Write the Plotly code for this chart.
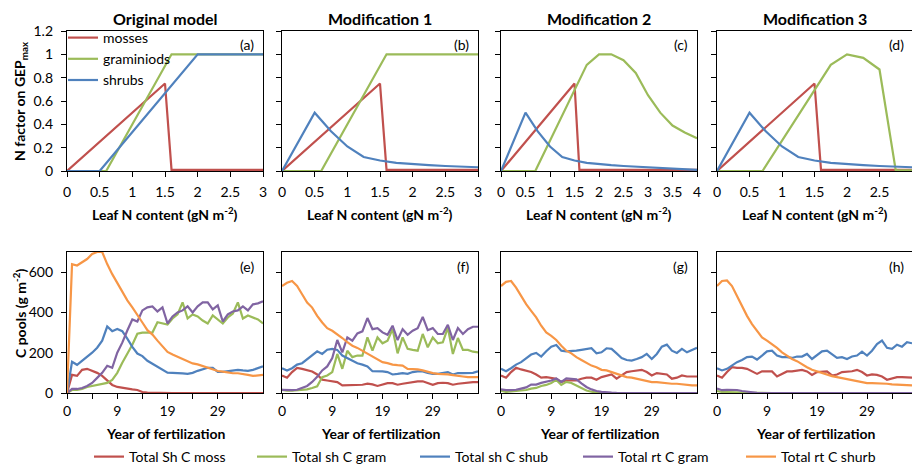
import plotly.graph_objects as go

W, H = 912, 466

# ---------------- top row data (N factor on GEPmax vs leaf N) ----------------
moss_x_a = [0, 1.5, 1.6, 3]
moss_y_a = [0, 0.75, 0.01, 0.01]
gram_x_a = [0, 0.6, 1.6, 3]
gram_y_a = [0, 0, 1, 1]
shrub_x_a = [0, 0.5, 2, 3]
shrub_y_a = [0, 0, 1, 1]

moss_x_mod = [0, 1.5, 1.6, 4]
moss_y_mod = [0, 0.75, 0.01, 0.01]

shrub_x_mod = [0, 0.5, 0.75, 1, 1.25, 1.5, 1.75, 2, 2.25, 2.5, 2.75, 3, 3.25, 3.5, 3.75, 4]
shrub_y_mod = [0, 0.5, 0.34, 0.21, 0.12, 0.09, 0.07, 0.057, 0.05, 0.043, 0.037, 0.03, 0.022, 0.016, 0.012, 0.01]

gram_x_b = [0, 0.6, 1.6, 3]
gram_y_b = [0, 0, 1, 1]
gram_x_c = [0, 0.7, 1.75, 2, 2.25, 2.5, 2.75, 3, 3.25, 3.5, 3.75, 4]
gram_y_c = [0, 0, 0.91, 1.0, 1.0, 0.95, 0.84, 0.65, 0.5, 0.39, 0.33, 0.28]
gram_x_d = [0, 0.7, 1.75, 2, 2.25, 2.5, 2.75, 3]
gram_y_d = [0, 0, 0.91, 1.0, 0.97, 0.87, 0.005, 0.005]

top_titles = ["Original model", "Modification 1", "Modification 2", "Modification 3"]
top_xmax = [3, 3, 4, 3]
top_labels = ["(a)", "(b)", "(c)", "(d)"]
bot_labels = ["(e)", "(f)", "(g)", "(h)"]

# ---------------- bottom row data (C pools vs year index) ----------------
year_ticks = [0, 10, 20, 30]
year_ticktext = ["0", "9", "19", "29"]
years = list(range(40))

moss_e = [0, 90, 85, 115, 120, 110, 100, 85, 60, 40, 30, 25, 20, 18, 15, 5, 2, 1, 0, 0,
          0, 0, 0, 0, 0, 0, 0, 0, 0, 0, 0, 0, 0, 0, 0, 0, 0, 0, 0, 0]
gram_e = [0, 15, 15, 20, 30, 35, 40, 45, 50, 65, 100, 150, 196, 240, 294, 300, 300, 300, 351, 345,
          340, 370, 390, 450, 370, 390, 380, 360, 345, 385, 365, 345, 375, 395, 450, 370, 385, 375, 365, 345]
shub_e = [0, 155, 140, 160, 180, 200, 225, 260, 330, 307, 318, 307, 270, 229, 196, 183, 160, 145, 130, 118,
          101, 100, 100, 97, 95, 100, 110, 118, 125, 125, 105, 105, 108, 112, 115, 112, 110, 115, 122, 132]
rtgram_e = [0, 20, 20, 25, 35, 50, 75, 100, 135, 125, 200, 250, 310, 365, 355, 410, 425, 430, 405, 425,
            345, 380, 400, 410, 430, 400, 430, 450, 450, 415, 435, 355, 390, 405, 410, 430, 410, 440, 445, 455]
rtshrub_e = [0, 640, 633, 650, 665, 690, 700, 700, 640, 590, 545, 500, 460, 425, 390, 350, 312, 290, 260, 230,
             204, 191, 180, 171, 160, 147, 142, 134, 126, 118, 109, 106, 101, 98, 98, 95, 90, 85, 88, 90]

moss_f = [87, 76, 104, 125, 120, 112, 107, 92, 66, 62, 59, 54, 38, 38, 38, 38, 41, 46, 43, 35,
          43, 49, 49, 41, 46, 51, 54, 58, 58, 49, 41, 49, 51, 49, 41, 46, 49, 54, 54, 54]
gram_f = [16, 12, 12, 14, 16, 18, 25, 33, 79, 87, 104, 194, 120, 210, 178, 186, 186, 276, 210, 276,
          247, 260, 317, 197, 276, 219, 214, 210, 293, 227, 276, 247, 252, 325, 194, 273, 214, 214, 205, 202]
shub_f = [123, 112, 123, 141, 148, 169, 186, 207, 194, 215, 219, 214, 186, 174, 158, 148, 141, 132, 108, 108,
          107, 104, 92, 95, 99, 95, 104, 107, 107, 100, 95, 95, 99, 104, 92, 99, 99, 99, 100, 108]
rtgram_f = [16, 14, 14, 16, 25, 35, 55, 80, 112, 132, 174, 263, 202, 276, 260, 296, 306, 372, 317, 322,
            301, 289, 334, 263, 317, 289, 309, 322, 378, 312, 322, 293, 293, 339, 263, 322, 293, 317, 329, 329]
rtshrub_f = [531, 547, 556, 531, 490, 449, 424, 383, 350, 322, 309, 293, 273, 252, 235, 224, 210, 194, 178, 164,
             153, 148, 141, 138, 136, 120, 120, 117, 112, 104, 99, 95, 95, 92, 89, 87, 82, 79, 79, 79]

moss_g = [87, 76, 104, 125, 117, 112, 104, 92, 76, 79, 76, 71, 54, 62, 62, 62, 71, 76, 76, 66,
          79, 87, 92, 71, 87, 104, 108, 112, 115, 104, 87, 99, 95, 92, 71, 76, 87, 82, 82, 82]
gram_g = [12, 5, 8, 10, 12, 15, 22, 25, 35, 40, 50, 65, 40, 55, 50, 38, 22, 12, 6, 2,
          0, 0, 0, 0, 0, 0, 0, 0, 0, 0, 0, 0, 0, 0, 0, 0, 0, 0, 0, 0]
shub_g = [120, 108, 123, 141, 153, 174, 191, 199, 181, 207, 230, 238, 210, 207, 207, 210, 214, 219, 222, 197,
          202, 222, 219, 197, 174, 164, 161, 169, 178, 194, 169, 194, 230, 240, 210, 199, 219, 202, 214, 224]
rtgram_g = [18, 14, 14, 16, 22, 28, 42, 42, 50, 55, 62, 72, 55, 72, 70, 68, 48, 30, 18, 10,
            6, 3, 2, 1, 1, 0, 0, 0, 0, 0, 0, 0, 0, 0, 0, 0, 0, 0, 0, 0]
rtshrub_g = [531, 552, 556, 523, 482, 441, 408, 375, 334, 301, 284, 263, 235, 210, 197, 178, 164, 148, 136, 128,
             115, 112, 104, 95, 87, 79, 76, 71, 66, 62, 54, 54, 51, 49, 46, 46, 43, 41, 38, 38]

moss_h = [87, 76, 104, 128, 125, 125, 120, 108, 95, 108, 107, 107, 82, 95, 107, 107, 112, 115, 107, 90,
          104, 107, 107, 87, 92, 104, 107, 108, 115, 104, 87, 92, 90, 82, 66, 74, 79, 79, 76, 76]
gram_h = [10, 5, 5, 5, 4, 3, 2, 1, 0, 0, 0, 0, 0, 0, 0, 0, 0, 0, 0, 0,
          0, 0, 0, 0, 0, 0, 0, 0, 0, 0, 0, 0, 0, 0, 0, 0, 0, 0, 0, 0]
shub_h = [123, 112, 120, 136, 153, 164, 178, 181, 166, 186, 207, 210, 186, 178, 178, 174, 181, 181, 194, 169,
          186, 207, 210, 194, 174, 178, 169, 181, 186, 205, 186, 210, 243, 260, 224, 219, 240, 230, 252, 247]
rtgram_h = [22, 14, 16, 16, 15, 10, 6, 3, 1, 0, 0, 0, 0, 0, 0, 0, 0, 0, 0, 0,
            0, 0, 0, 0, 0, 0, 0, 0, 0, 0, 0, 0, 0, 0, 0, 0, 0, 0, 0, 0]
rtshrub_h = [531, 556, 559, 531, 482, 432, 383, 342, 309, 276, 260, 243, 224, 202, 186, 169, 158, 141, 128, 115,
             107, 99, 92, 84, 79, 74, 67, 62, 58, 54, 49, 49, 49, 46, 46, 43, 41, 41, 38, 38]

bot_names = ["Total Sh C moss", "Total sh C gram", "Total sh C shub", "Total rt C gram", "Total rt C shurb"]
bot_series = [
    [moss_e, gram_e, shub_e, rtgram_e, rtshrub_e],
    [moss_f, gram_f, shub_f, rtgram_f, rtshrub_f],
    [moss_g, gram_g, shub_g, rtgram_g, rtshrub_g],
    [moss_h, gram_h, shub_h, rtgram_h, rtshrub_h],
]

RED, GREEN, BLUE, PURPLE, ORANGE = "#C0504D", "#9BBB59", "#4F81BD", "#8064A2", "#F79646"
bot_colors = [RED, GREEN, BLUE, PURPLE, ORANGE]

FONT = "Lato"
LW = 2.2

# ---------------- layout geometry (pixels) ----------------
panel_left = [67, 282, 501, 717]
panel_w = 196
top_row = (31, 171)
bot_row = (252, 393)


def xdom(left):
    return [left / W, min(1.0, (left + panel_w) / W)]


def ydom(top, bottom):
    return [(H - bottom) / H, (H - top) / H]


fig = go.Figure()

top_sets = [
    [(moss_x_a, moss_y_a), (gram_x_a, gram_y_a), (shrub_x_a, shrub_y_a)],
    [(moss_x_mod, moss_y_mod), (gram_x_b, gram_y_b), (shrub_x_mod, shrub_y_mod)],
    [(moss_x_mod, moss_y_mod), (gram_x_c, gram_y_c), (shrub_x_mod, shrub_y_mod)],
    [(moss_x_mod, moss_y_mod), (gram_x_d, gram_y_d), (shrub_x_mod, shrub_y_mod)],
]
top_names = ["mosses", "graminiods", "shrubs"]
top_colors = [RED, GREEN, BLUE]

for i, sets in enumerate(top_sets):
    ax = i + 1
    for j, (xs, ys) in enumerate(sets):
        fig.add_trace(go.Scatter(
            x=xs, y=ys, mode="lines", name=top_names[j],
            line=dict(color=top_colors[j], width=LW),
            xaxis=f"x{ax}", yaxis=f"y{ax}",
            showlegend=(i == 0), legend="legend",
        ))

for i, series in enumerate(bot_series):
    ax = i + 5
    for j, ys in enumerate(series):
        fig.add_trace(go.Scatter(
            x=years, y=ys, mode="lines", name=bot_names[j],
            line=dict(color=bot_colors[j], width=LW),
            xaxis=f"x{ax}", yaxis=f"y{ax}",
            showlegend=(i == 0), legend="legend2",
        ))

axis_common = dict(
    showline=True, linecolor="black", linewidth=1.3, mirror=True,
    showgrid=False, zeroline=False, ticks="outside", ticklen=5,
    tickcolor="black", tickwidth=1.3, automargin=False,
    tickfont=dict(family=FONT, size=14, color="black"),
)

layout = dict(
    width=W, height=H, margin=dict(l=0, r=0, t=0, b=0, autoexpand=False),
    paper_bgcolor="white", plot_bgcolor="white",
    font=dict(family=FONT, size=14, color="black"),
)

for i in range(4):
    ax = i + 1
    xa = dict(axis_common, domain=xdom(panel_left[i]), range=[0, top_xmax[i]],
              dtick=0.5, tick0=0, anchor=f"y{ax}", ticklabelstandoff=3)
    ya = dict(axis_common, domain=ydom(*top_row), range=[0, 1.2], dtick=0.2,
              anchor=f"x{ax}", showticklabels=(i == 0), ticklabelstandoff=5)
    layout[f"xaxis{ax}"] = xa
    layout[f"yaxis{ax}"] = ya

for i in range(4):
    ax = i + 5
    xa = dict(axis_common, domain=xdom(panel_left[i]), range=[0, 39],
              tickmode="array", tickvals=year_ticks, ticktext=year_ticktext,
              minor=dict(ticks="outside", dtick=5, tick0=0, ticklen=5, tickcolor="black", tickwidth=1.3),
              anchor=f"y{ax}")
    ya = dict(axis_common, domain=ydom(*bot_row), range=[0, 700],
              tickmode="array", tickvals=[0, 200, 400, 600],
              anchor=f"x{ax}", showticklabels=(i == 0), ticklabelstandoff=5)
    layout[f"xaxis{ax}"] = xa
    layout[f"yaxis{ax}"] = ya

layout["legend"] = dict(
    x=63 / W, y=(H - 22) / H, xanchor="left", yanchor="top",
    bgcolor="rgba(0,0,0,0)", font=dict(family=FONT, size=14, color="black"),
    tracegroupgap=0,
)
layout["legend2"] = dict(
    orientation="h", x=89 / W, y=(H - 457) / H, xanchor="left", yanchor="middle",
    bgcolor="rgba(0,0,0,0)", font=dict(family=FONT, size=14, color="black"),
    entrywidth=118, entrywidthmode="pixels",
)


def py(ypix):
    return (H - ypix) / H


ann = []
for i in range(4):
    cx = (panel_left[i] + panel_w / 2) / W
    ann.append(dict(text=f"<b>{top_titles[i]}</b>", x=cx, y=py(18), xref="paper", yref="paper",
                    showarrow=False, font=dict(family=FONT, size=16), xanchor="center", yanchor="middle"))
    ann.append(dict(text="<b>Leaf N content (gN m<sup>-2</sup>)</b>", x=cx, y=py(213), xref="paper", yref="paper",
                    showarrow=False, font=dict(family=FONT, size=14), xanchor="center", yanchor="middle"))
    ann.append(dict(text="<b>Year of fertilization</b>", x=cx, y=py(433), xref="paper", yref="paper",
                    showarrow=False, font=dict(family=FONT, size=14), xanchor="center", yanchor="middle"))
    rx = (panel_left[i] + 189) / W
    ann.append(dict(text=top_labels[i], x=rx, y=py(44), xref="paper", yref="paper",
                    showarrow=False, font=dict(family=FONT, size=14), xanchor="right", yanchor="middle"))
    ann.append(dict(text=bot_labels[i], x=rx, y=py(266), xref="paper", yref="paper",
                    showarrow=False, font=dict(family=FONT, size=14), xanchor="right", yanchor="middle"))

ann.append(dict(text="<b>N factor on GEP<sub>max</sub></b>", x=20 / W, y=py(101), xref="paper", yref="paper",
                showarrow=False, textangle=-90, font=dict(family=FONT, size=14), xanchor="center", yanchor="middle"))
ann.append(dict(text="<b>C pools (g m<sup>-2</sup>)</b>", x=19 / W, y=py(314), xref="paper", yref="paper",
                showarrow=False, textangle=-90, font=dict(family=FONT, size=14), xanchor="center", yanchor="middle"))
layout["annotations"] = ann

fig.update_layout(**layout)
fig.write_html("out.html")
